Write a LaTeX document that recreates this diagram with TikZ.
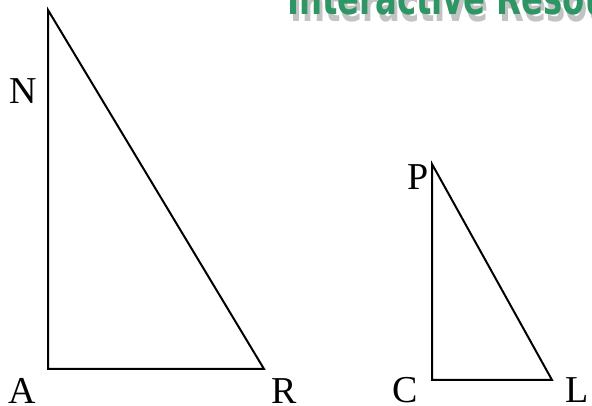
\documentclass[tikz,border=0pt]{standalone}
\usepackage{fontspec}
\setmainfont{Liberation Serif}
\newfontfamily\logofont{DejaVu Sans Condensed}
\usepackage{xcolor}
\usetikzlibrary{positioning}
\definecolor{logoGreen}{RGB}{46, 150, 100}
\definecolor{logoShade}{RGB}{195, 195, 195}

\begin{document}
\begin{tikzpicture}[
        x=1pt, y=1pt,
        side/.style={line width=2pt, black, line join=miter},
        lbl/.style={font=\fontsize{38}{38}\selectfont, anchor=base, inner sep=0pt},
        logo/.style={font=\logofont\bfseries\fontsize{46}{46}\selectfont, anchor=base west,
            inner sep=0pt, xscale=0.78}
    ]
    \clip (0,0) rectangle (592,406);
    \fill[white] (0,0) rectangle (592,406);
    % watermark, cut off at the top
    \node[logo, text=logoShade] (shade) at (290,384) {Interactive Resources};
    \node[logo, text=logoGreen] (logo) at (287,391) {Interactive Resources};
    % large triangle
    \coordinate (n) at (48,396);
    \coordinate (a) at (48,37);
    \coordinate (r) at (264,37);
    \draw[side] (n) -- (a) -- (r) -- cycle;
    \node[lbl] (labN) at (23,302) {N};
    \node[lbl] (labA) at (22,2) {A};
    \node[lbl] (labR) at (284,2) {R};
    % small triangle
    \coordinate (p) at (432,242);
    \coordinate (c) at (432,26);
    \coordinate (l) at (552,26);
    \draw[side] (p) -- (c) -- (l) -- cycle;
    \node[lbl] (labP) at (418,216) {P};
    \node[lbl] (labC) at (405,3) {C};
    \node[lbl] (labL) at (577,3) {L};
\end{tikzpicture}
\end{document}
